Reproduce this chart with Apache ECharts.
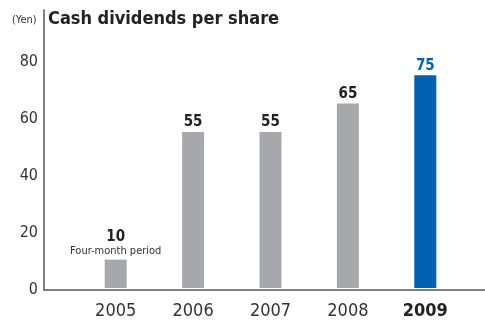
<!DOCTYPE html>
<html><head><meta charset="utf-8">
<script src="https://cdn.jsdelivr.net/npm/echarts@6/dist/echarts.min.js"></script>
<style>html,body{margin:0;padding:0;background:#fff}#c{width:485px;height:320px}</style>
</head><body><div id="c"></div>
<script>
const categories = ['2005', '2006', '2007', '2008', '2009'];
const dividends = [10, 55, 55, 65, 75];
const yTicks = [0, 20, 40, 60, 80];
const notes = ['Four-month period', '', '', '', ''];

const FONT = '"DejaVu Sans Condensed", "Liberation Sans Narrow", sans-serif';
const GRAY = '#a7a8ac', BLUE = '#0062b1';
const YMAX = 98;

const chart = echarts.init(document.getElementById('c'), null, {renderer: 'canvas'});
chart.setOption({
  animation: false,
  backgroundColor: '#fff',
  title: [
    {text: '(Yen)', left: 12, top: 15, padding: 0, textStyle: {fontFamily: FONT, fontSize: 11, fontWeight: 'normal', color: '#333'}},
    {text: 'Cash dividends per share', left: 48, top: 10, padding: 0, textStyle: {fontFamily: FONT, fontSize: 18, fontWeight: 'bold', color: '#222'}}
  ],
  grid: [
    {left: 44, right: 0, top: 10, bottom: 30},
    {left: 77, right: 21, top: 10, bottom: 30}
  ],
  xAxis: [
    {type: 'value', gridIndex: 0, min: 0, max: 1, axisLine: {show: true, lineStyle: {color: '#555', width: 1.5}},
     axisTick: {show: false}, axisLabel: {show: false}, splitLine: {show: false}},
    {type: 'category', gridIndex: 1, data: categories, axisLine: {show: false}, axisTick: {show: false},
     axisLabel: {interval: 0, fontFamily: FONT, fontSize: 18, color: '#333', margin: 14,
       formatter: (v) => v === '2009' ? '{b|' + v + '}' : v,
       rich: {b: {fontFamily: FONT, fontSize: 18, fontWeight: 'bold', color: '#222'}}}}
  ],
  yAxis: [
    {type: 'value', gridIndex: 0, min: 0, max: YMAX, interval: 20,
     axisLine: {show: true, lineStyle: {color: '#555', width: 1.5}}, axisTick: {show: false},
     splitLine: {show: false},
     axisLabel: {fontFamily: FONT, fontSize: 16, color: '#333', margin: 6,
       formatter: (v) => yTicks.indexOf(v) >= 0 ? String(v) : ''}},
    {type: 'value', gridIndex: 1, min: 0, max: YMAX, show: false}
  ],
  series: [{
    type: 'bar', xAxisIndex: 1, yAxisIndex: 1, barWidth: 22,
    data: dividends.map((v, i) => ({
      value: v,
      itemStyle: {color: i === dividends.length - 1 ? BLUE : GRAY},
      label: {
        show: true, position: 'top', distance: notes[i] ? 1 : 2,
        fontFamily: FONT, fontSize: 15, fontWeight: 'bold',
        color: i === dividends.length - 1 ? BLUE : '#222',
        formatter: notes[i] ? '{a|{c}}\n{n|' + notes[i] + '}' : '{c}',
        rich: notes[i] ? {
          a: {fontFamily: FONT, fontSize: 15, fontWeight: 'bold', color: '#222', lineHeight: 16, align: 'center'},
          n: {fontFamily: FONT, fontSize: 11, fontWeight: 'normal', color: '#333', lineHeight: 14, align: 'center'}
        } : undefined
      }
    }))
  }]
});
</script></body></html>
